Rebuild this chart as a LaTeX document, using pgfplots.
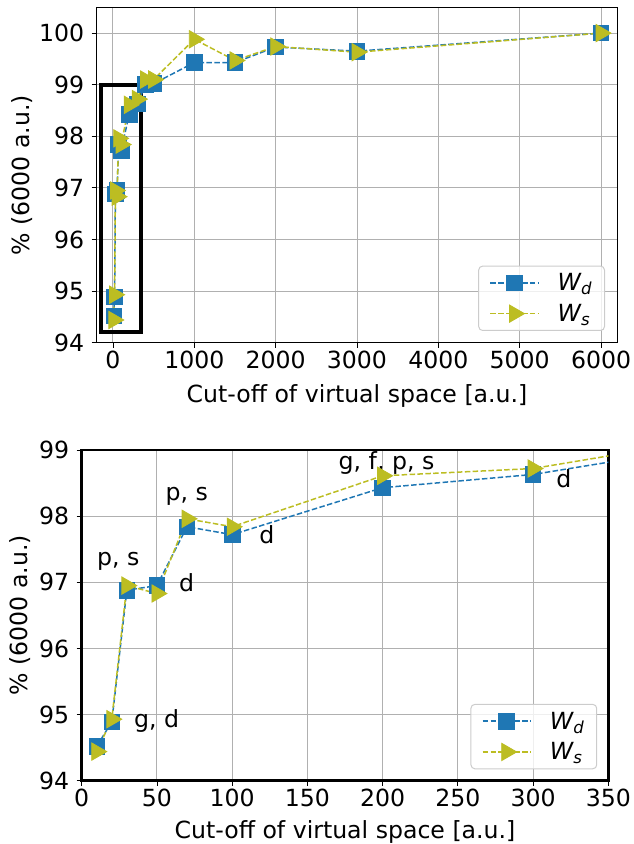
\documentclass[border=0pt]{standalone}
\usepackage{pgfplots}
\pgfplotsset{compat=1.18}
\usepackage{pgfplotstable}
\usepackage{fontspec}
\setmainfont{DejaVu Sans}
\definecolor{tabblue}{HTML}{1F77B4}
\definecolor{tabolive}{HTML}{BCBD22}
\definecolor{gridgray}{HTML}{B0B0B0}
\definecolor{legedge}{HTML}{CCCCCC}

\pgfplotstableread{
x    wd     ws
10   94.52  94.44
20   94.89  94.93
30   96.88  96.95
50   96.95  96.83
70   97.84  97.96
100  97.72  97.84
200  98.43  98.61
300  98.63  98.72
400  99.00  99.10
500  99.02  99.10
1000 99.43  99.88
1500 99.43  99.47
2000 99.73  99.74
3000 99.65  99.63
6000 100.00 100.00
}\datatable

\newcommand{\fs}{\fontsize{23.6}{27}\selectfont}

\pgfplotsset{
  common/.style={
    scale only axis,
    /pgf/number format/assume math mode=true,
    tick label style={font=\fs},
    yticklabel style={xshift=-4pt},
    label style={font=\fs},
    tick align=outside,
    xtick pos=left, ytick pos=left,
    major tick length=5pt,
    tick style={black, line width=0.8pt},
    grid=major,
    major grid style={gridgray, line width=1pt},
    legend cell align=left,
    legend style={font=\fs, draw=legedge, rounded corners=4pt, fill=white, fill opacity=0.8, draw opacity=1, text opacity=1, line width=1pt,
      inner xsep=11pt, inner ysep=6pt, row sep=9pt,
      nodes={inner sep=1.5pt},
      /tikz/every odd column/.append style={column sep=17pt}},
    legend image code/.code={\draw[fill opacity=1, mark repeat=2, mark phase=2] plot coordinates {(0pt,0pt) (24pt,0pt) (48pt,0pt)};},
  },
  wdstyle/.style={tabblue, line width=1.5pt, dash pattern=on 5.5pt off 2.4pt, mark=square*, mark size=7.8pt, mark options={solid, fill=tabblue, draw=tabblue, line width=0.8pt}},
  wsstyle/.style={tabolive, line width=1.5pt, dash pattern=on 5.5pt off 2.4pt, mark=triangle*, mark size=10pt, mark options={solid, rotate=-90, fill=tabolive, draw=tabolive, line width=0.8pt}},
}

\begin{document}
\begin{tikzpicture}
\path[use as bounding box] (0pt,0pt) rectangle (634pt,844pt);

\begin{axis}[common,
  at={(96.7pt,501.3pt)}, anchor=south west,
  width=520.6pt, height=335.4pt,
  xmin=-200, xmax=6200, ymin=94, ymax=100.5,
  xtick={0,1000,2000,3000,4000,5000,6000},
  ytick={94,95,96,97,98,99,100},
  scaled x ticks=false,
  xticklabel style={/pgf/number format/1000 sep={}},
  axis line style={black, line width=0.8pt},
  xlabel={Cut-off of virtual space [a.u.]},
  ylabel={\% (6000 a.u.)},
  xlabel style={at={(axis description cs:0.5,-0.160)}, anchor=center},
  ylabel style={at={(axis description cs:-0.144,0.5)}, anchor=center},
  legend style={at={(axis description cs:0.9764,0.0349)}, anchor=south east},
]
\draw[black, line width=4pt] (axis cs:-150,94.2) rectangle (axis cs:350,99);
\addplot[wdstyle] table[x=x, y=wd] {\datatable};
\addlegendentry{\textit{W\textsubscript{d}}}
\addplot[wsstyle] table[x=x, y=ws] {\datatable};
\addlegendentry{\textit{W\textsubscript{s}}}
\end{axis}

\begin{axis}[common,
  at={(81.7pt,63.3pt)}, anchor=south west,
  width=526.6pt, height=330.7pt,
  xmin=0, xmax=350, ymin=94, ymax=99,
  xtick={0,50,100,150,200,250,300,350},
  ytick={94,95,96,97,98,99},
  axis line style={black, line width=2.7pt},
  xlabel={Cut-off of virtual space [a.u.]},
  ylabel={\% (6000 a.u.)},
  xlabel style={at={(axis description cs:0.5,-0.155)}, anchor=center},
  ylabel style={at={(axis description cs:-0.117,0.5)}, anchor=center},
  legend style={at={(axis description cs:0.979,0.0345)}, anchor=south east},
]
\addplot[wdstyle] table[x=x, y=wd] {\datatable};
\addlegendentry{\textit{W\textsubscript{d}}}
\addplot[wsstyle] table[x=x, y=ws] {\datatable};
\addlegendentry{\textit{W\textsubscript{s}}}
\node[font=\fs] at (axis cs:24.3,97.31) {p, s};
\node[font=\fs] at (axis cs:69.8,97.0) {d};
\node[font=\fs] at (axis cs:69.8,98.3) {p, s};
\node[font=\fs] at (axis cs:123,97.72) {d};
\node[font=\fs] at (axis cs:49.8,94.9) {g, d};
\node[font=\fs] at (axis cs:202.6,98.8) {g, f, p, s};
\node[font=\fs] at (axis cs:320.5,98.57) {d};
\end{axis}
\end{tikzpicture}
\end{document}
